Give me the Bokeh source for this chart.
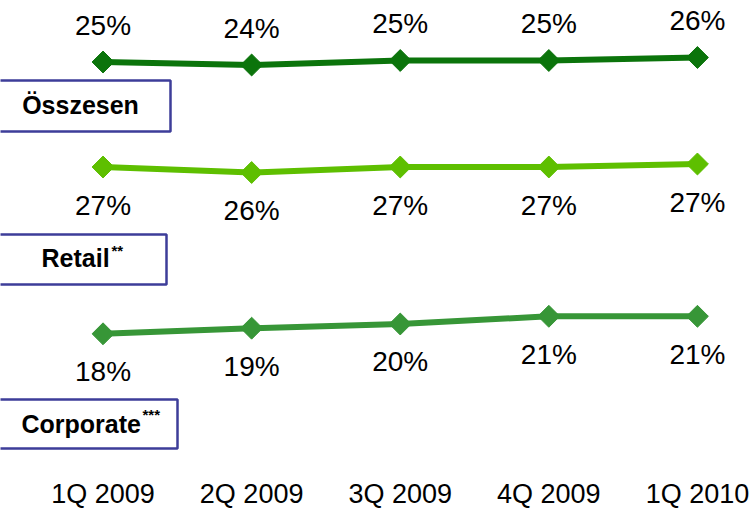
from bokeh.plotting import figure
from bokeh.models import Range1d
from bokeh.core.properties import value
from bokeh.embed import file_html
from bokeh.resources import INLINE
import numpy as np

# ---- data ----
quarters = ["1Q 2009", "2Q 2009", "3Q 2009", "4Q 2009", "1Q 2010"]
osszesen = [24.9, 24.3, 25.2, 25.2, 25.8]
osszesen_labels = ["25%", "24%", "25%", "25%", "26%"]
retail = [26.7, 25.6, 26.7, 26.7, 27.3]
retail_labels = ["27%", "26%", "27%", "27%", "27%"]
corporate = [18.3, 19.1, 19.7, 20.8, 20.8]
corporate_labels = ["18%", "19%", "20%", "21%", "21%"]

xs = list(range(len(quarters)))

W, H = 754, 511
p = figure(width=W, height=H, output_backend="svg", toolbar_location=None,
           x_range=Range1d(0, W), y_range=Range1d(H, 0),
           x_axis_location=None, y_axis_location=None,
           min_border=0, outline_line_color=None)
p.grid.visible = False
p.background_fill_color = "white"
p.border_fill_color = "white"

p.extra_x_ranges = {"q": Range1d(-0.690, 4.384)}
p.extra_y_ranges = {
    "tot": Range1d(-65.0, 37.2),
    "ret": Range1d(-42.2, 60.0),
    "corp": Range1d(-7.086, 65.914),
}

FONT = value("Liberation Sans")
series = [
    (osszesen, osszesen_labels, "tot", "#0B740B", -37),
    (retail, retail_labels, "ret", "#5EBF00", 38),
    (corporate, corporate_labels, "corp", "#379637", 38),
]
for vals, labs, rn, col, off in series:
    p.line(xs, vals, x_range_name="q", y_range_name=rn, line_color=col,
           line_width=6)
    p.scatter(xs, vals, x_range_name="q", y_range_name=rn, marker="square",
              angle=np.pi / 4, size=15.5, fill_color=col, line_color=col)
    p.text(xs, vals, text=labs, x_range_name="q", y_range_name=rn,
           y_offset=off, text_align="center", text_baseline="alphabetic",
           text_font=FONT, text_font_size="28px", text_color="black")

# x labels
p.text(xs, [493.6] * len(xs), text=quarters, x_range_name="q",
       text_align="center", text_baseline="alphabetic",
       text_font=FONT, text_font_size="27px", text_color="black")

# boxes
BOX = "#3D3D99"
p.quad(left=[-3, -3, -3], right=[170, 166, 177], top=[80, 234, 399],
       bottom=[131, 284, 448], fill_color="white", line_color=BOX,
       line_width=2.5)

p.text([80], [104.5], text=["Összesen"], text_align="center",
       text_baseline="alphabetic", text_font=FONT, text_font_size="25px",
       text_font_style="bold", text_color="black")
p.text([41, 21], [257.5, 423.5], text=["Retail", "Corporate"], text_align="left",
       text_baseline="alphabetic", text_font=FONT, text_font_size="25px",
       text_font_style="bold", text_color="black")
p.text([111, 142], [249.5, 413.5], text=["**", "***"], text_align="left",
       text_baseline="alphabetic", text_font=FONT, text_font_size="15px",
       text_font_style="bold", text_color="black")

open("out.html", "w").write(file_html(p, INLINE))
